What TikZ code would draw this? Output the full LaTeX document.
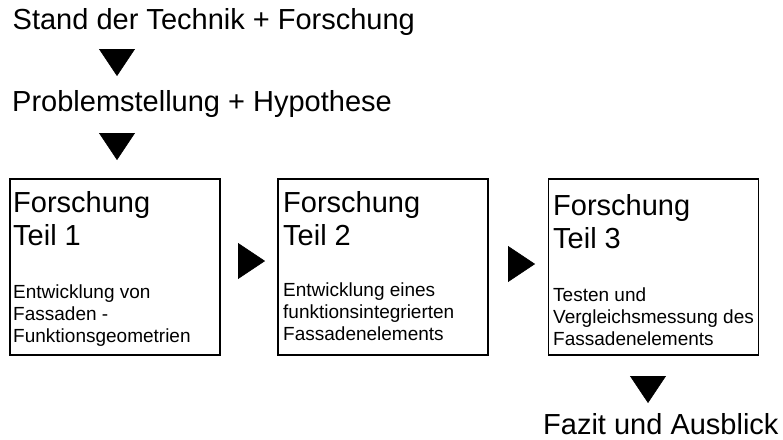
\documentclass[tikz,border=0pt]{standalone}
\usepackage{fontspec}
\setmainfont{Liberation Sans}
\usetikzlibrary{arrows.meta}

\tikzset{
  gross/.style={anchor=base west, inner sep=0pt, align=left, font=\fontsize{29}{33}\selectfont},
  klein/.style={anchor=base west, inner sep=0pt, align=left, font=\fontsize{19}{22}\selectfont},
  kasten/.style={draw, line width=1.5pt, minimum width=210pt, minimum height=176pt, inner sep=0pt},
  pfeil/.style={-{Triangle[length=27pt,width=36pt]}, line width=0.4pt},
}

\begin{document}
\begin{tikzpicture}[x=1pt,y=-1pt]
  \useasboundingbox (0,0) rectangle (783,439);
  % Kopfzeilen
  \node[gross] (stand) at (12.5,29) {Stand der Technik + Forschung};
  \node[gross] (problem) at (12,111) {Problemstellung + Hypothese};
  % Kaesten (Anker = Grundlinie der letzten Zeile)
  \node[kasten] (teil1) at (115,267) {};
  \node[kasten] (teil2) at (383,267) {};
  \node[kasten] (teil3) at (653.5,267) {};
  \node[gross] (titel1) at (13,245) {Forschung\\Teil 1};
  \node[klein] (text1) at (13,342) {Entwicklung von\\Fassaden -\\Funktionsgeometrien};
  \node[gross] (titel2) at (283,245) {Forschung\\Teil 2};
  \node[klein] (text2) at (283,340) {Entwicklung eines\\funktionsintegrierten\\Fassadenelements};
  \node[gross] (titel3) at (553,248) {Forschung\\Teil 3};
  \node[klein] (text3) at (553,345) {Testen und\\Vergleichsmessung des\\Fassadenelements};
  \node[gross] (fazit) at (543,434) {Fazit und Ausblick};
  % Pfeilspitzen
  \coordinate (p1a) at (117,49);  \coordinate (p1b) at (117,76);
  \coordinate (p2a) at (117,133); \coordinate (p2b) at (117,160);
  \coordinate (p3a) at (238,261); \coordinate (p3b) at (265,261);
  \coordinate (p4a) at (508,264); \coordinate (p4b) at (535,264);
  \coordinate (p5a) at (648,377); \coordinate (p5b) at (648,403);
  \draw[pfeil] (p1a)--(p1b);
  \draw[pfeil] (p2a)--(p2b);
  \draw[pfeil] (p3a)--(p3b);
  \draw[pfeil] (p4a)--(p4b);
  \draw[pfeil] (p5a)--(p5b);
\end{tikzpicture}
\end{document}
